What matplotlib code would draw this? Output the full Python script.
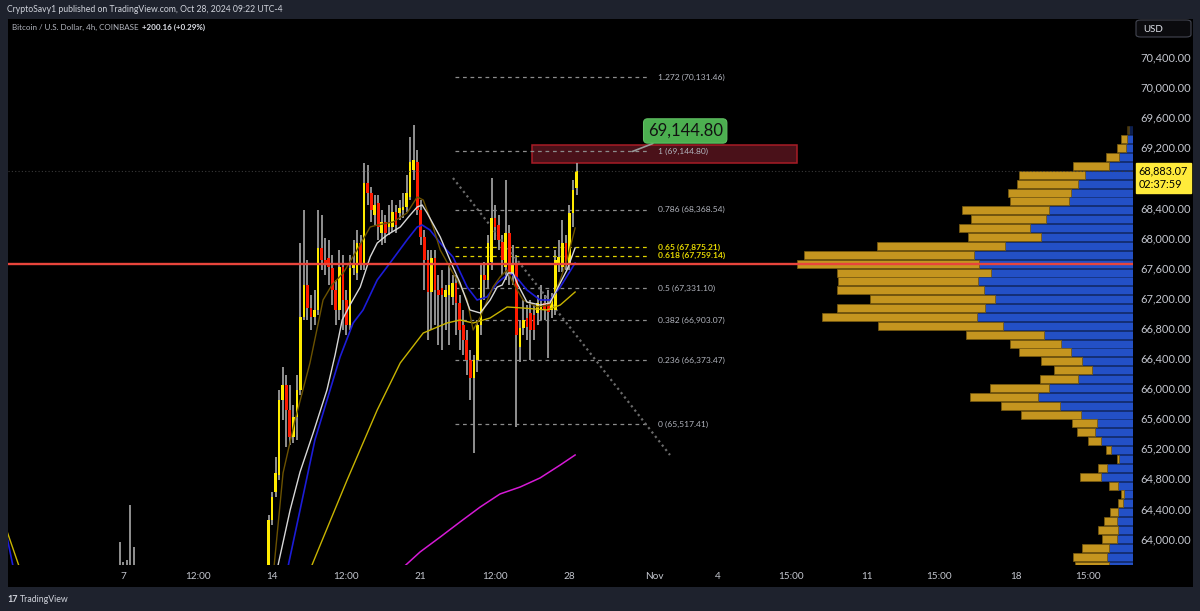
import numpy as np
import matplotlib.pyplot as plt
from matplotlib.patches import Rectangle, FancyBboxPatch

plt.rcParams['font.family'] = ['Lato', 'DejaVu Sans']

W, H = 1200, 611

# 4h candles, bar 0 = Oct 14 00:00 (UTC-4)
early_bars = [-43, -42, -41, -40, -39]
early_open = [63420, 63380, 63450, 63300, 63520]
early_high = [63955, 63690, 63716, 64447, 63888]
early_low = [63150, 63200, 63250, 63100, 63300]
early_close = [63380, 63450, 63300, 63520, 63400]

first_bar = -1
opens = [63583, 64247, 64619, 64845, 65842, 66041, 65709, 65350, 65616, 65975,
         66945, 67370, 67064, 66945, 67038, 67862, 67702, 67729, 67596, 67304,
         67038, 67609, 67171, 66839, 67596, 67530, 67928, 67662, 68726, 68593,
         68300, 68460, 68061, 68207, 68141, 68141, 68340, 68327, 68367, 68407,
         68540, 68898, 69005, 68367, 68008, 67702, 67277, 67729, 67304, 67330,
         67211, 67237, 67211, 67397, 67131, 66839, 66639, 66374, 66134, 66374,
         66839, 67503, 67437, 67676, 68260, 68167, 67942, 67609, 68061, 67503,
         67636, 66546, 66799, 66932, 66998, 66971, 66998, 67038, 67131, 67131,
         67038, 67038, 67636, 67609, 67928, 67636, 68327, 68659]
highs = [64314, 64619, 65084, 65975, 66280, 66174, 66041, 65775, 66174, 67928,
         68367, 67702, 67237, 67304, 68367, 68300, 67995, 67968, 67769, 67437,
         67835, 67769, 67304, 67769, 67968, 68101, 68035, 68991, 68965, 68672,
         68566, 68566, 68367, 68300, 68433, 68500, 68433, 68500, 68593, 68832,
         69337, 69496, 69164, 68500, 68101, 67835, 67835, 67835, 67503, 67569,
         67370, 67636, 67503, 67503, 67237, 67038, 66772, 66506, 66440, 66905,
         67636, 67676, 68035, 68792, 68433, 68300, 68035, 68765, 68167, 67902,
         67769, 66905, 67171, 67104, 67171, 67104, 67237, 67370, 67237, 67304,
         67264, 67835, 67968, 68234, 68035, 68433, 68765, 68991]
lows = [63516, 64181, 64553, 64779, 65576, 65217, 65244, 65270, 65310, 65908,
        66905, 66905, 66772, 66839, 66971, 67569, 67503, 67370, 67104, 66839,
        66905, 66772, 66706, 66772, 67503, 67437, 67569, 67569, 68433, 68207,
        68167, 67968, 67902, 67928, 68035, 68074, 68061, 68234, 68260, 68340,
        68500, 68765, 68300, 67902, 67304, 66639, 66772, 66839, 66573, 66506,
        66772, 66573, 67104, 66706, 66506, 66440, 66174, 65842, 65138, 66214,
        66706, 67171, 67330, 67569, 67968, 67835, 67503, 67437, 67370, 67370,
        65483, 66347, 66706, 66639, 66374, 66639, 66839, 66905, 66905, 66400,
        66932, 66971, 67543, 67543, 67569, 67569, 68141, 68566]
closes = [64247, 64553, 64872, 65842, 66041, 65709, 65350, 65616, 65975, 66945,
          67370, 67064, 66945, 67038, 67862, 67702, 67636, 67609, 67304, 67038,
          67609, 67171, 66839, 67596, 67636, 67928, 67662, 68726, 68593, 68367,
          68433, 68141, 68207, 68061, 68207, 68340, 68167, 68393, 68407, 68593,
          69005, 69031, 68367, 68008, 67702, 67277, 67729, 67304, 67237, 67237,
          67304, 67370, 67397, 67131, 66772, 66639, 66374, 66134, 66374, 66839,
          67503, 67437, 67928, 68260, 68141, 67968, 67702, 68061, 67503, 67636,
          66706, 66799, 66905, 66812, 66772, 66772, 67131, 67104, 67038, 67011,
          67171, 67702, 67742, 67928, 67636, 68327, 68633, 68883.07]

# moving averages (bar, price)
ma_white_bar = [1.7, 5.1, 7.9, 11.6, 15.5, 17.8, 19.8, 22.0, 24.9, 27.7, 29.7, 32.5, 36.2, 39.0,
                41.0, 42.4, 43.8, 47.5, 51.1, 53.1, 55.9, 58.8, 61.6, 63.6, 65.0, 66.7, 68.1,
                69.2, 72.0, 75.7, 78.5, 81.4, 83.3, 85.6]
ma_white = [63650, 64380, 64885, 65403, 65975, 66440, 66905, 67104, 67343, 67742, 67928, 68035,
            68141, 68300, 68407, 68433, 68327, 68008, 67609, 67397, 67038, 66998, 67171, 67343,
            67370, 67530, 67530, 67397, 67144, 67104, 67131, 67397, 67569, 67862]
ma_brown_bar = [0.6, 3.1, 6.5, 10.7, 14.4, 16.9, 20.1, 24.0, 27.7, 29.7, 34.2, 38.1, 41.0, 42.7,
                45.5, 47.5, 51.1, 53.1, 55.1, 56.8, 58.8, 62.4, 64.4, 66.4, 68.1, 70.9, 74.9,
                78.5, 81.4, 83.3, 85.6]
ma_brown = [63649, 64872, 65576, 66334, 67171, 67370, 67530, 67835, 68141, 68167, 68207, 68327,
            68540, 68500, 68141, 67835, 67530, 67370, 67171, 66772, 66945, 67343, 67477, 67569,
            67397, 67171, 67078, 67104, 67437, 67702, 68128]
ma_blue_bar = [-75, -73.2, 3.7, 7.9, 12.1, 19.2, 22.9, 25.7, 29.7, 33.3, 38.1, 41.0, 42.4, 44.6,
               47.5, 51.1, 55.1, 57.9, 60.7, 63.6, 65.3, 67.2, 69.2, 72.0, 75.7, 78.5, 81.4, 85.6]
ma_blue = [64048, 63636, 63450, 64380, 65310, 66413, 66865, 67038, 67437, 67662, 67968, 68141,
           68167, 68101, 67928, 67742, 67343, 67171, 67211, 67397, 67463, 67530, 67463, 67304,
           67171, 67171, 67343, 67662]
ma_yellow_bar = [-75, -71.5, 10.7, 13.6, 21.2, 29.7, 36.2, 42.7, 49.4, 53.1, 56.8, 61.6, 66.4,
                 70.9, 77.7, 81.4, 85.6]
ma_yellow = [64114, 63636, 63583, 63915, 64779, 65709, 66334, 66732, 66865, 66905, 66865, 66932,
             67078, 67064, 67038, 67104, 67277]
ma_magenta_bar = [34.7, 41.8, 47.5, 53.1, 58.8, 64.4, 70.1, 75.7, 81.4, 85.6]
ma_magenta = [63517, 63822, 64021, 64221, 64420, 64593, 64686, 64806, 64978, 65111]

# fibonacci retracement
fib_ratio = ['1.272', '1', '0.786', '0.65', '0.618', '0.5', '0.382', '0.236', '0']
fib_price = [70131.46, 69144.80, 68368.54, 67875.21, 67759.14, 67331.10, 66903.07, 66373.47, 65517.41]
fib_start, fib_end = 51.7, 106.8

# drawings
zone_start, zone_end = 73.4, 148.3
zone_low, zone_high = 68991, 69231
support = 67649
trend_bar = [51.1, 112.4]
trend_price = [68792, 65111]

# visible range volume profile, rows from the top
vp_top, vp_step = 69483, 118
vp_up = [4.0, 5.7, 7.0, 13.7, 23.7, 48, 55.3, 62.3, 64, 83.7, 87.3, 103, 92, 128, 158.7, 154,
         142.3, 155.3, 149, 138.3, 147.7, 156.3, 130, 89.3, 72.3, 62, 51, 41, 55.3, 83.7, 95.3,
         73, 52.3, 35.7, 37.7, 32, 22, 14.3, 26.3, 32, 14.7, 9.3, 9.7, 15.3, 16, 15.3, 16.3, 24,
         26.3, 24]
vp_down = [2.3, 6.6, 8.7, 13.6, 36, 66, 60.4, 62.4, 59.3, 87.3, 74.7, 70.7, 73.3, 127.7, 170,
           182.3, 153.7, 139.4, 147, 124.4, 148.3, 154.7, 124.7, 78, 51, 51.7, 41, 38, 38, 59.3,
           67.4, 59, 60, 25.6, 18, 13, 5, 2, 8.4, 21, 9.3, 3, 5.3, 7.7, 13, 20, 14.3, 27, 33.7, 34.3]

tick_bars = [-42, -21, 0, 21, 42, 63, 84, 108, 126, 146.5, 168, 188.5, 210, 230.5]
tick_labels = ['7', '12:00', '14', '12:00', '21', '12:00', '28', 'Nov', '4', '15:00', '11',
               '15:00', '18', '15:00']
price_ticks = [64000, 64400, 64800, 65200, 65600, 66000, 66400, 66800, 67200, 67600, 68000,
               68400, 69200, 69600, 70000, 70400]

# ---------------------------------------------------------------
fig = plt.figure(figsize=(12, 6.11), dpi=100, facecolor='#1e222d')
fig.patches.append(Rectangle((8 / W, 1 - 587 / H), 1185 / W, 568 / H, transform=fig.transFigure,
                             fc='black', ec='none', zorder=-5))

ax = fig.add_axes([8 / W, 1 - 565 / H, 1125 / W, 546 / H])
ax.set_facecolor('black')
ax.set_xlim(-74.6, 243.2)
ax.set_ylim(63649, 70905)
for s in ax.spines.values():
    s.set_visible(False)

# candles
bars = early_bars + list(range(first_bar, first_bar + len(opens)))
o = np.array(early_open + opens)
h = np.array(early_high + highs)
l = np.array(early_low + lows)
c = np.array(early_close + closes)
body_col = np.where(c >= o, '#ffeb00', '#ff1a00')
ax.vlines(bars, l, h, color='#a9a9a9', lw=1.2, zorder=3)
ax.bar(bars, np.maximum(np.abs(c - o), 14), bottom=np.minimum(o, c), width=0.75,
       color=body_col, zorder=4)

ax.plot(ma_magenta_bar, ma_magenta, color='#d61ad6', lw=1.1, zorder=5)
ax.plot(ma_yellow_bar, ma_yellow, color='#c8b400', lw=1.0, zorder=5)
ax.plot(ma_blue_bar, ma_blue, color='#1c1cd8', lw=1.2, zorder=5)
ax.plot(ma_brown_bar, ma_brown, color='#6b5200', lw=1.0, zorder=5)
ax.plot(ma_white_bar, ma_white, color='#d8d8d8', lw=1.0, zorder=5)

# resistance zone
ax.add_patch(Rectangle((zone_start, zone_low), zone_end - zone_start, zone_high - zone_low,
                       fc='#4a1119', ec='#a81c26', lw=1.1, zorder=2))

# fib levels
for r, p in zip(fib_ratio, fib_price):
    gold = r in ('0.65', '0.618')
    col = '#e0d200' if gold else '#8c8c8c'
    ax.hlines(p, fib_start, fib_end, colors=col, lw=0.9, linestyles=(0, (3, 3)), zorder=3)
    ax.text(fib_end + 2.2, p, f'{r} ({p:,.2f})', color='#e6d800' if gold else '#b2b5be',
            fontsize=6.1, va='center', ha='left', fontweight='bold' if gold else 'normal', zorder=6)

ax.plot(trend_bar, trend_price, color='#6a6a6a', lw=1.6, ls=(0, (1, 1.5)), zorder=3)

# callout
ax.annotate(f'{fib_price[1]:,.2f}', xy=(101.8, fib_price[1]), xytext=(116.7, 69417),
            ha='center', va='center', fontsize=12, color='#111111', zorder=8,
            bbox=dict(boxstyle='round,pad=0.25', fc='#4caf50', ec='#5fbf62', lw=0.8),
            arrowprops=dict(arrowstyle='-', color='#9a9a9a', lw=1.2, shrinkA=0, shrinkB=0))

ax.set_xticks(tick_bars)
ax.set_xticklabels(tick_labels)
ax.yaxis.tick_right()
ax.set_yticks(price_ticks)
ax.set_yticklabels([f'{v:,.2f}' for v in price_ticks])
ax.tick_params(axis='both', length=0, colors='#c3c6ce', labelsize=8)
ax.tick_params(axis='x', pad=5, labelsize=7.2)
ax.tick_params(axis='y', pad=5)

# volume profile overlay
vp = fig.add_axes(ax.get_position(), facecolor='none')
vp.set_xlim(1125, 0)
vp.set_ylim(ax.get_ylim())
vp.axis('off')
rows = vp_top - (np.arange(len(vp_up)) + 0.5) * vp_step
alphas = [0.4] + [1.0] * (len(vp_up) - 1)
for y, u, d, a in zip(rows, vp_up, vp_down, alphas):
    vp.barh(y, u, left=0, height=vp_step * 0.9, color='#2350c6', ec='#16337f', lw=0.5, alpha=a)
    vp.barh(y, d, left=u, height=vp_step * 0.9, color='#c4951f', ec='#7a5c10', lw=0.5, alpha=a)

vp.axhline(support, color='#e8453c', lw=1.7)
vp.axhline(closes[-1], color='#3a3a3a', lw=0.8, ls=(0, (1, 2)))

# last price label
ax.annotate(f'{closes[-1]:,.2f}\n02:37:59', xy=(1.0, closes[-1]), xycoords=ax.get_yaxis_transform(),
            xytext=(4, 4), textcoords='offset points', ha='left', va='top', fontsize=7.8,
            color='black', linespacing=1.3, annotation_clip=False,
            bbox=dict(boxstyle='square,pad=0.28', fc='#ffeb3b', ec='#ffeb3b'))

# USD box
fig.patches.append(FancyBboxPatch((1136 / W, 1 - 37 / H), 55 / W, 17 / H,
                                  boxstyle='round,pad=0,rounding_size=0.004',
                                  transform=fig.transFigure, fc='#0b0b0e', ec='#434651', lw=0.8))
fig.text(1143 / W, 1 - 29 / H, 'USD', color='#e0e3eb', fontsize=7, va='center')

# header / footer text
fig.text(7 / W, 1 - 9 / H, 'CryptoSavy1 published on TradingView.com, Oct 28, 2024 09:22 UTC-4',
         color='#d1d4dc', fontsize=6.2, va='center')
fig.text(12 / W, 1 - 27 / H, 'Bitcoin / U.S. Dollar, 4h, COINBASE', color='#b2b5be',
         fontsize=5.8, va='center')
fig.text(142 / W, 1 - 27 / H, '+200.16 (+0.29%)', color='#e0e3eb', fontsize=5.8,
         va='center', fontweight='bold')
fig.text(7 / W, 1 - 600 / H, '17', color='#d1d4dc', fontsize=6.5, va='center', fontweight='bold')
fig.text(20 / W, 1 - 600 / H, 'TradingView', color='#d1d4dc', fontsize=6.3, va='center')

fig.savefig('out.png', dpi=100, facecolor=fig.get_facecolor())
